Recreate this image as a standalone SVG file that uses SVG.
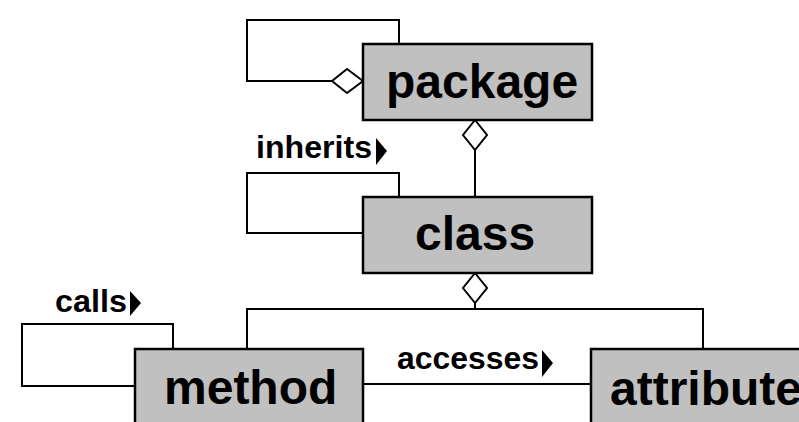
<svg xmlns="http://www.w3.org/2000/svg" width="799" height="422" viewBox="0 0 799 422">
<defs>
<style>
.box{fill:#c0c0c0;stroke:#000;stroke-width:2.5}
.big{font-family:"Liberation Sans",Arial,sans-serif;font-weight:bold;font-size:48px;fill:#000}
.lbl{font-family:"Liberation Sans",Arial,sans-serif;font-weight:bold;font-size:31px;fill:#000}
.ln{fill:none;stroke:#000;stroke-width:2}
.dia{fill:#fff;stroke:#000;stroke-width:2}
.tri{fill:#000}
</style>
</defs>
<rect width="799" height="422" fill="#fff"/>
<g id="connectors">
<polyline class="ln" points="332,81 247,81 247,20 399,20 399,44"/>
<polygon class="dia" points="363,81 347,69 332,81 347,93"/>
<line class="ln" x1="475" y1="150" x2="475" y2="197"/>
<polygon class="dia" points="475,120 487,135 475,150 463,135"/>
<polyline class="ln" points="363,233 247,233 247,173 399,173 399,197"/>
<text class="lbl" x="256" y="158" textLength="116" lengthAdjust="spacingAndGlyphs">inherits</text>
<polygon class="tri" points="376,138 387,151 376,165"/>
<polygon class="dia" points="475,273 487,288 475,303 463,288"/>
<line class="ln" x1="475" y1="303" x2="475" y2="309"/>
<polyline class="ln" points="247,349 247,309 703,309 703,349"/>
<polyline class="ln" points="135,386 22,386 22,324 173,324 173,349"/>
<text class="lbl" x="55" y="312" textLength="72" lengthAdjust="spacingAndGlyphs">calls</text>
<polygon class="tri" points="130,291 141,303 130,316"/>
<line class="ln" x1="363" y1="384" x2="591" y2="384"/>
<text class="lbl" x="397" y="369" textLength="142" lengthAdjust="spacingAndGlyphs">accesses</text>
<polygon class="tri" points="542,350 553,363 542,377"/>
</g>
<g id="package">
<rect class="box" x="363" y="44" width="229" height="76"/>
<text class="big" x="386" y="98">package</text>
</g>
<g id="class">
<rect class="box" x="363" y="197" width="229" height="76"/>
<text class="big" x="415" y="250">class</text>
</g>
<g id="method">
<rect class="box" x="135" y="349" width="228" height="100"/>
<text class="big" x="164" y="404">method</text>
</g>
<g id="attribute">
<rect class="box" x="591" y="349" width="240" height="100"/>
<text class="big" x="610" y="405">attribute</text>
</g>
</svg>
